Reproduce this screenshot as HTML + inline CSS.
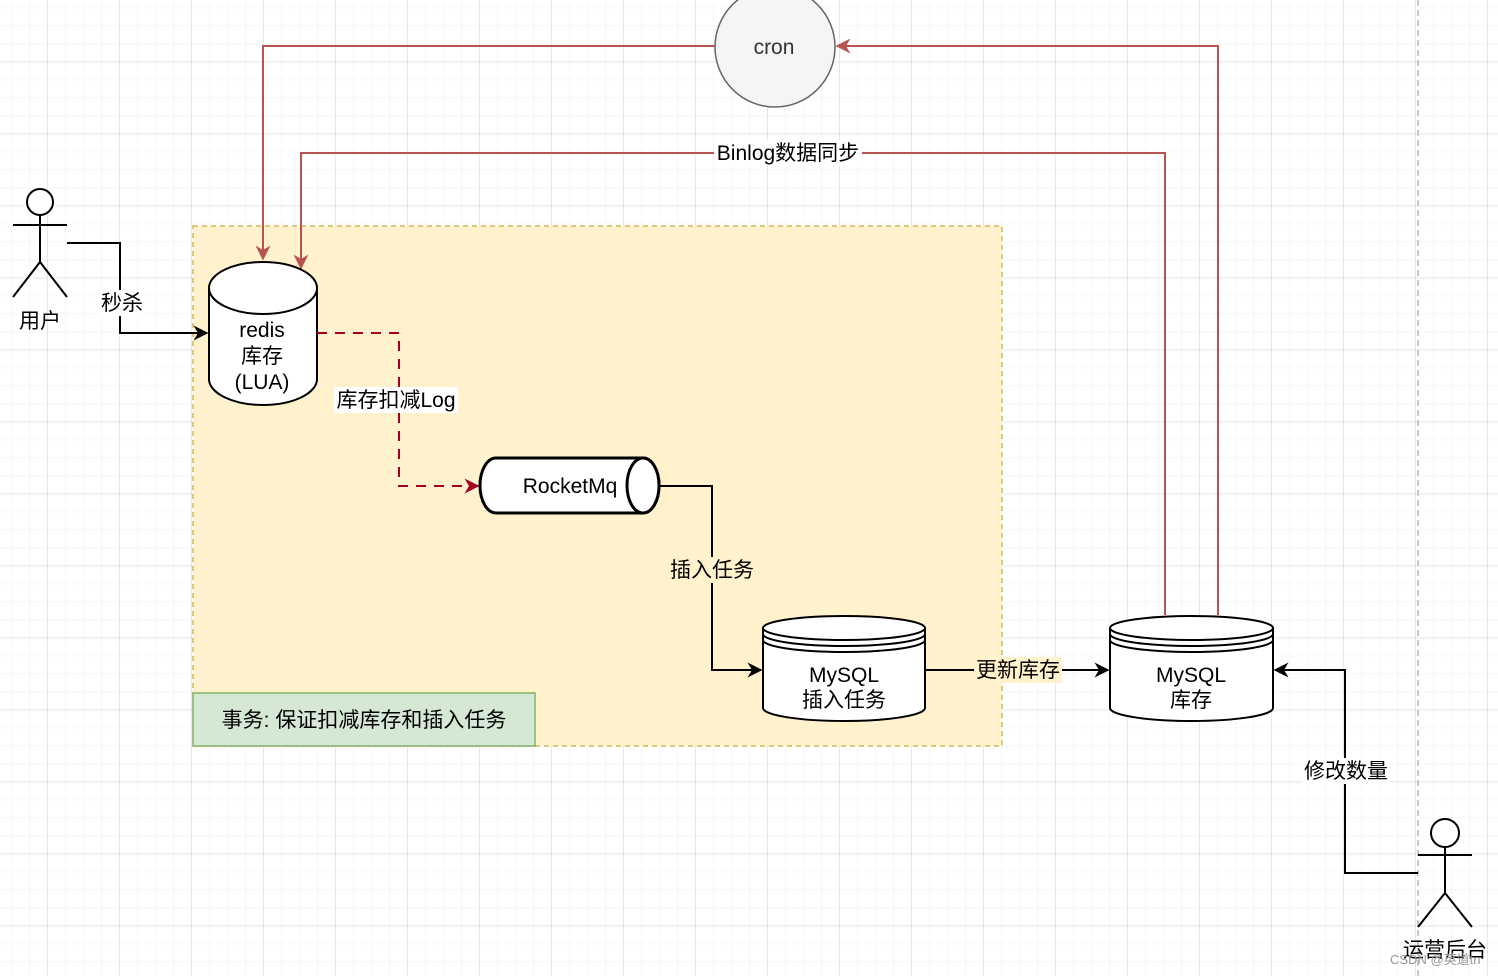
<!DOCTYPE html>
<html><head><meta charset="utf-8"><style>
html,body{margin:0;padding:0;background:#fff}
svg{display:block}
text{font-family:"Liberation Sans","Noto Sans CJK SC",sans-serif;fill:#000;font-size:21px}
</style></head><body>
<svg width="1498" height="976" viewBox="0 0 1498 976" xmlns="http://www.w3.org/2000/svg">
<defs>
<pattern id="minor" x="11.3" y="7.7" width="18" height="18" patternUnits="userSpaceOnUse">
<path d="M0 0V18M0 0H18" stroke="#ececec" stroke-width="1" fill="none"/></pattern>
<pattern id="major" x="47.3" y="61.7" width="72" height="72" patternUnits="userSpaceOnUse">
<path d="M0 0V72M0 0H72" stroke="#d6d6d6" stroke-width="1" fill="none"/></pattern>
<marker id="abk" viewBox="0 0 10 10" refX="9" refY="5" markerWidth="15" markerHeight="15" orient="auto" markerUnits="userSpaceOnUse"><path d="M0 0L10 5L0 10L3 5Z" fill="#000"/></marker>
<marker id="ar" viewBox="0 0 10 10" refX="9" refY="5" markerWidth="15" markerHeight="15" orient="auto" markerUnits="userSpaceOnUse"><path d="M0 0L10 5L0 10L3 5Z" fill="#b85450"/></marker>
<marker id="am" viewBox="0 0 10 10" refX="9" refY="5" markerWidth="15" markerHeight="15" orient="auto" markerUnits="userSpaceOnUse"><path d="M0 0L10 5L0 10L3 5Z" fill="#a20025"/></marker>
</defs>
<rect width="1498" height="976" fill="url(#minor)"/>
<rect width="1498" height="976" fill="url(#major)"/>
<line x1="1418" y1="0" x2="1418" y2="976" stroke="#c8c8c8" stroke-width="2" stroke-dasharray="6 4"/>

<rect x="193" y="226" width="809" height="520" fill="#fff2cc" stroke="#d6b656" stroke-width="1.5" stroke-dasharray="5 4"/>
<rect x="193" y="693" width="342" height="53" fill="#d5e8d4" stroke="#82b366" stroke-width="1.5"/>
<text x="364" y="727" text-anchor="middle">事务: 保证扣减库存和插入任务</text>

<circle cx="775" cy="47" r="60" fill="#f5f5f5" stroke="#666" stroke-width="1.5"/>
<text x="774" y="54" text-anchor="middle" style="fill:#333">cron</text>

<path d="M715 46H263V259" fill="none" stroke="#b85450" stroke-width="2" marker-end="url(#ar)"/>
<path d="M1218 615V46H837" fill="none" stroke="#b85450" stroke-width="2" marker-end="url(#ar)"/>
<path d="M1165 615V153H301V268" fill="none" stroke="#b85450" stroke-width="2" marker-end="url(#ar)"/>
<rect x="714" y="140" width="148" height="26" fill="#fff"/>
<text x="788" y="160" text-anchor="middle">Binlog数据同步</text>

<g stroke="#000" stroke-width="2" fill="none">
<circle cx="40" cy="202" r="13" fill="#fff"/>
<path d="M40 215V262M13 225H67M40 262L13 297M40 262L67 297"/>
<circle cx="1445" cy="833" r="14" fill="#fff"/>
<path d="M1445 847V893M1418 855H1472M1445 893L1418 927M1445 893L1472 927"/>
</g>
<text x="40" y="328" text-anchor="middle">用户</text>
<text x="1445" y="957" text-anchor="middle">运营后台</text>

<path d="M67 243H120V333H207" fill="none" stroke="#000" stroke-width="2" marker-end="url(#abk)"/>
<rect x="99" y="290" width="46" height="26" fill="#fff"/>
<text x="122" y="310" text-anchor="middle">秒杀</text>

<path d="M209 288V379A54 26 0 0 0 317 379V288" fill="#fff" stroke="#000" stroke-width="2"/>
<ellipse cx="263" cy="288" rx="54" ry="26" fill="#fff" stroke="#000" stroke-width="2"/>
<text x="262" y="337" text-anchor="middle">redis</text>
<text x="262" y="363" text-anchor="middle">库存</text>
<text x="262" y="389" text-anchor="middle">(LUA)</text>

<path d="M317 333H399V486H478" fill="none" stroke="#a20025" stroke-width="2" stroke-dasharray="10 8" marker-end="url(#am)"/>
<rect x="334" y="387" width="124" height="26" fill="#fff"/>
<text x="396" y="407" text-anchor="middle">库存扣减Log</text>

<path d="M496 458H643A16 27.5 0 0 1 643 513H496A16 27.5 0 0 1 496 458Z" fill="#fff" stroke="#000" stroke-width="3"/>
<ellipse cx="643" cy="485.5" rx="16" ry="27.5" fill="#fff" stroke="#000" stroke-width="3"/>
<text x="570" y="493" text-anchor="middle">RocketMq</text>

<path d="M660 486H712V670H761" fill="none" stroke="#000" stroke-width="2" marker-end="url(#abk)"/>
<rect x="668" y="557" width="88" height="26" fill="#fff2cc"/>
<text x="712" y="577" text-anchor="middle">插入任务</text>

<g stroke="#000" stroke-width="2" fill="#fff">
<path d="M763 628V708A81 13 0 0 0 925 708V628"/>
<ellipse cx="844" cy="628" rx="81" ry="12"/>
<path d="M763 634A81 12 0 0 0 925 634M763 640A81 12 0 0 0 925 640" fill="none"/>
<path d="M1110 628V708A81.5 13 0 0 0 1273 708V628"/>
<ellipse cx="1191.5" cy="628" rx="81.5" ry="12"/>
<path d="M1110 634A81.5 12 0 0 0 1273 634M1110 640A81.5 12 0 0 0 1273 640" fill="none"/>
</g>
<text x="844" y="682" text-anchor="middle">MySQL</text>
<text x="844" y="707" text-anchor="middle">插入任务</text>
<text x="1191" y="682" text-anchor="middle">MySQL</text>
<text x="1191" y="707" text-anchor="middle">库存</text>

<path d="M925 670H1108" fill="none" stroke="#000" stroke-width="2" marker-end="url(#abk)"/>
<rect x="974" y="657" width="88" height="26" fill="#fff2cc"/>
<text x="1018" y="677" text-anchor="middle">更新库存</text>

<path d="M1418 873H1345V670H1275" fill="none" stroke="#000" stroke-width="2" marker-end="url(#abk)"/>
<rect x="1302" y="758" width="88" height="26" fill="#fff"/>
<text x="1346" y="778" text-anchor="middle">修改数量</text>

<text x="1390" y="964" style="font-size:13px;fill:#999">CSDN @英道tn</text>
</svg>
</body></html>
